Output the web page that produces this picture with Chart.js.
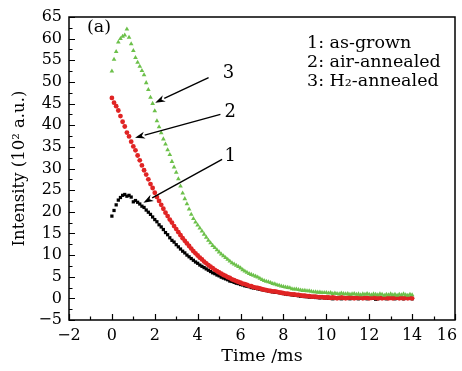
<!DOCTYPE html>
<html>
<head>
<meta charset="utf-8">
<script src="https://cdn.jsdelivr.net/npm/chart.js@4/dist/chart.umd.min.js"></script>
<style>
  html, body { margin: 0; padding: 0; background: #fff; }
</style>
</head>
<body>
<canvas id="pl-chart" width="462" height="371"></canvas>
<script>
"use strict";

// time axis (ms)
const time = [
  0, 0.1, 0.2, 0.3, 0.4, 0.5, 0.6, 0.7, 0.8, 0.9,
  1, 1.1, 1.2, 1.3, 1.4, 1.5, 1.6, 1.7, 1.8, 1.9,
  2, 2.1, 2.2, 2.3, 2.4, 2.5, 2.6, 2.7, 2.8, 2.9,
  3, 3.1, 3.2, 3.3, 3.4, 3.5, 3.6, 3.7, 3.8, 3.9,
  4, 4.1, 4.2, 4.3, 4.4, 4.5, 4.6, 4.7, 4.8, 4.9,
  5, 5.1, 5.2, 5.3, 5.4, 5.5, 5.6, 5.7, 5.8, 5.9,
  6, 6.1, 6.2, 6.3, 6.4, 6.5, 6.6, 6.7, 6.8, 6.9,
  7, 7.1, 7.2, 7.3, 7.4, 7.5, 7.6, 7.7, 7.8, 7.9,
  8, 8.1, 8.2, 8.3, 8.4, 8.5, 8.6, 8.7, 8.8, 8.9,
  9, 9.1, 9.2, 9.3, 9.4, 9.5, 9.6, 9.7, 9.8, 9.9,
  10, 10.1, 10.2, 10.3, 10.4, 10.5, 10.6, 10.7, 10.8, 10.9,
  11, 11.1, 11.2, 11.3, 11.4, 11.5, 11.6, 11.7, 11.8, 11.9,
  12, 12.1, 12.2, 12.3, 12.4, 12.5, 12.6, 12.7, 12.8, 12.9,
  13, 13.1, 13.2, 13.3, 13.4, 13.5, 13.6, 13.7, 13.8, 13.9,
  14
];

// 1: as-grown
const asGrown = [
  19.0, 20.3, 21.6, 22.7, 23.3, 23.8, 24.0, 23.6, 23.8, 23.4,
  22.3, 22.6, 22.2, 21.8, 21.3, 21.0, 20.4, 19.9, 19.4, 18.8,
  18.2, 17.7, 17.0, 16.5, 15.9, 15.2, 14.7, 14.0, 13.4, 13.0,
  12.4, 11.9, 11.4, 10.9, 10.5, 10.0, 9.6, 9.2, 8.8, 8.4,
  8.1, 7.7, 7.4, 7.1, 6.8, 6.5, 6.2, 5.9, 5.7, 5.4,
  5.2, 4.9, 4.7, 4.5, 4.3, 4.0, 3.9, 3.7, 3.5, 3.4,
  3.2, 3.1, 2.9, 2.8, 2.7, 2.5, 2.4, 2.3, 2.2, 2.1,
  2.0, 1.9, 1.8, 1.7, 1.6, 1.5, 1.4, 1.4, 1.3, 1.2,
  1.1, 1.0, 0.9, 0.9, 0.8, 0.7, 0.7, 0.6, 0.5, 0.5,
  0.4, 0.4, 0.3, 0.3, 0.3, 0.2, 0.2, 0.1, 0.2, 0.1,
  0.1, 0.0, 0.1, -0.1, 0.0, 0.1, 0.0, -0.1, 0.0, 0.1,
  0.0, -0.1, 0.0, 0.1, 0.0, -0.1, 0.0, 0.0, 0.1, -0.1,
  0.0, 0.1, 0.0, -0.2, -0.1, 0.0, 0.1, 0.0, -0.1, 0.0,
  0.1, 0.0, -0.1, 0.0, 0.0, 0.1, -0.1, 0.0, 0.1, 0.0,
  -0.1
];

// 2: air-annealed
const airAnnealed = [
  46.3, 45.2, 44.4, 43.4, 42.1, 40.8, 39.7, 38.3, 37.4, 36.2,
  35.1, 34.2, 33.0, 31.9, 30.7, 29.6, 28.6, 27.5, 26.4, 25.5,
  24.4, 23.4, 22.5, 21.6, 20.7, 19.8, 19.0, 18.2, 17.5, 16.7,
  16.0, 15.3, 14.6, 13.9, 13.3, 12.7, 12.1, 11.5, 10.9, 10.4,
  9.9, 9.4, 9.0, 8.5, 8.1, 7.7, 7.3, 7.0, 6.6, 6.3,
  6.0, 5.7, 5.4, 5.2, 4.9, 4.7, 4.4, 4.2, 4.0, 3.8,
  3.6, 3.4, 3.3, 3.1, 2.9, 2.8, 2.6, 2.5, 2.4, 2.3,
  2.1, 2.0, 1.9, 1.8, 1.7, 1.6, 1.6, 1.5, 1.4, 1.3,
  1.2, 1.1, 1.1, 1.0, 0.9, 0.9, 0.8, 0.8, 0.7, 0.6,
  0.6, 0.5, 0.5, 0.4, 0.4, 0.4, 0.3, 0.3, 0.3, 0.2,
  0.2, 0.2, 0.1, 0.2, 0.1, 0.0, 0.1, 0.2, 0.1, 0.0,
  0.1, 0.2, 0.1, 0.0, 0.1, 0.1, 0.2, 0.0, 0.1, 0.1,
  0.0, 0.1, 0.2, 0.1, 0.0, 0.1, 0.0, 0.1, 0.1, 0.0,
  0.1, 0.0, 0.1, 0.2, 0.0, 0.1, 0.0, 0.1, 0.0, 0.1,
  0.0
];

// 3: H2-annealed
const h2Annealed = [
  52.5, 55.2, 57.0, 59.2, 60.0, 60.5, 60.8, 62.2, 60.3, 58.8,
  57.2, 55.6, 54.5, 53.6, 52.6, 51.6, 49.8, 48.2, 46.4, 45.0,
  43.3, 41.0, 39.6, 38.2, 36.8, 35.6, 34.3, 33.2, 31.6, 30.3,
  29.1, 27.6, 25.9, 24.3, 23.0, 21.8, 20.6, 19.4, 18.4, 17.6,
  16.9, 16.2, 15.5, 14.8, 14.1, 13.4, 12.8, 12.2, 11.7, 11.2,
  10.7, 10.2, 9.8, 9.4, 9.0, 8.6, 8.2, 7.9, 7.6, 7.3,
  7.0, 6.6, 6.3, 6.0, 5.7, 5.5, 5.3, 5.1, 4.9, 4.6,
  4.3, 4.1, 3.9, 3.8, 3.6, 3.4, 3.3, 3.1, 3.0, 2.8,
  2.7, 2.6, 2.5, 2.4, 2.2, 2.1, 2.1, 2.0, 1.9, 1.8,
  1.8, 1.7, 1.7, 1.6, 1.5, 1.5, 1.4, 1.4, 1.3, 1.3,
  1.3, 1.2, 1.3, 1.1, 1.2, 1.1, 1.0, 1.2, 1.1, 1.0,
  1.1, 0.9, 1.0, 1.1, 0.9, 1.0, 0.8, 1.0, 0.9, 1.1,
  0.9, 0.8, 1.0, 0.9, 0.8, 1.0, 0.9, 0.7, 0.9, 0.8,
  1.0, 0.8, 0.9, 0.7, 0.9, 0.8, 1.0, 0.8, 0.7, 0.9,
  0.8
];

const xTicks = [-2, 0, 2, 4, 6, 8, 10, 12, 14, 16];
const yTicks = [-5, 0, 5, 10, 15, 20, 25, 30, 35, 40, 45, 50, 55, 60, 65];
const legendLines = ["1: as-grown", "2: air-annealed", "3: H\u2082-annealed"];
const curveLabels = ["1", "2", "3"];

const FONT = "'DejaVu Serif', 'Liberation Serif', serif";

const toPoints = (vals) => time.map((t, i) => ({ x: t, y: vals[i] }));
const minus = (v) => String(v).replace("-", "\u2212");

// arrow annotations, in data units: [label x, label y, from x, from y, to x, to y]
const arrows = [
  [5.52, 32.9, 5.14, 32.1, 1.47, 22.1],
  [5.52, 42.9, 5.06, 42.5, 1.08, 37.1],
  [5.44, 52.1, 4.51, 51.0, 2.02, 45.2],
];

const decor = {
  id: "decor",
  afterDatasetsDraw(chart) {
    const { ctx, chartArea: a, scales: { x, y } } = chart;
    ctx.save();
    ctx.strokeStyle = "#000";
    ctx.fillStyle = "#000";

    // frame
    ctx.lineWidth = 1.5;
    ctx.strokeRect(a.left, a.top, a.right - a.left, a.bottom - a.top);

    // inward ticks
    ctx.lineWidth = 1.2;
    ctx.beginPath();
    for (let v = xTicks[0]; v <= xTicks[xTicks.length - 1]; v += 1) {
      const px = Math.round(x.getPixelForValue(v)) + 0.5;
      const len = v % 2 === 0 ? 6 : 3.5;
      ctx.moveTo(px, a.bottom);
      ctx.lineTo(px, a.bottom - len);
    }
    for (let v = yTicks[0]; v <= yTicks[yTicks.length - 1]; v += 2.5) {
      const py = Math.round(y.getPixelForValue(v)) + 0.5;
      const len = v % 5 === 0 ? 6 : 3.5;
      ctx.moveTo(a.left, py);
      ctx.lineTo(a.left + len, py);
    }
    ctx.stroke();

    // arrows with numbers
    ctx.font = "18px " + FONT;
    ctx.textAlign = "center";
    ctx.textBaseline = "middle";
    arrows.forEach((ar, i) => {
      const x0 = x.getPixelForValue(ar[2]), y0 = y.getPixelForValue(ar[3]);
      const x1 = x.getPixelForValue(ar[4]), y1 = y.getPixelForValue(ar[5]);
      const ang = Math.atan2(y1 - y0, x1 - x0);
      const hl = 10, hw = 3.5;
      const bx = x1 - hl * Math.cos(ang), by = y1 - hl * Math.sin(ang);
      ctx.lineWidth = 1.4;
      ctx.beginPath();
      ctx.moveTo(x0, y0);
      ctx.lineTo(bx, by);
      ctx.stroke();
      ctx.beginPath();
      ctx.moveTo(x1, y1);
      ctx.lineTo(bx - hw * Math.sin(ang), by + hw * Math.cos(ang));
      ctx.lineTo(x1 - 0.7 * hl * Math.cos(ang), y1 - 0.7 * hl * Math.sin(ang));
      ctx.lineTo(bx + hw * Math.sin(ang), by - hw * Math.cos(ang));
      ctx.closePath();
      ctx.fill();
      ctx.fillText(curveLabels[i], x.getPixelForValue(ar[0]), y.getPixelForValue(ar[1]));
    });

    // panel tag and legend text
    ctx.textAlign = "left";
    ctx.font = "17.5px " + FONT;
    ctx.fillText("(a)", a.left + 18, a.top + 10);
    legendLines.forEach((s, i) => {
      ctx.fillText(s, 307, 43 + i * 19);
    });
    ctx.restore();
  },
};

new Chart(document.getElementById("pl-chart"), {
  type: "scatter",
  data: {
    datasets: [
      {
        label: "3: H2-annealed",
        data: toPoints(h2Annealed),
        pointStyle: "triangle",
        pointRadius: 2.7,
        backgroundColor: "#6cc04a",
        borderColor: "#6cc04a",
        borderWidth: 0,
      },
      {
        label: "2: air-annealed",
        data: toPoints(airAnnealed),
        pointStyle: "circle",
        pointRadius: 2.4,
        backgroundColor: "#e02424",
        borderColor: "#e02424",
        borderWidth: 0,
      },
      {
        label: "1: as-grown",
        data: toPoints(asGrown),
        pointStyle: "rect",
        pointRadius: 2.3,
        backgroundColor: "#000",
        borderColor: "#000",
        borderWidth: 0,
      },
    ],
  },
  options: {
    responsive: false,
    animation: false,
    layout: { padding: { top: 17, right: 7, left: 0, bottom: 0 } },
    plugins: {
      legend: { display: false },
      tooltip: { enabled: false },
    },
    scales: {
      x: {
        type: "linear",
        min: -2,
        max: 16,
        grid: { display: false, drawTicks: false },
        border: { display: false },
        ticks: {
          stepSize: 2,
          autoSkip: false,
          maxRotation: 0,
          color: "#000",
          padding: 6,
          font: { family: FONT, size: 16 },
          // last label is pulled in so it stays on the canvas
          callback: (v) => (v === xTicks[xTicks.length - 1] ? minus(v) + "\u2002\u2002" : minus(v)),
        },
        title: {
          display: true,
          text: "Time /ms",
          color: "#000",
          font: { family: FONT, size: 17.5 },
          padding: { top: 0, bottom: 4 },
        },
        afterFit: (s) => {
          s.height = 51;
          s.paddingLeft = 0;
          s.paddingRight = 0;
        },
      },
      y: {
        min: -5,
        max: 65,
        grid: { display: false, drawTicks: false },
        border: { display: false },
        ticks: {
          stepSize: 5,
          autoSkip: false,
          color: "#000",
          padding: 7,
          font: { family: FONT, size: 16 },
          callback: (v) => minus(v),
        },
        title: {
          display: true,
          text: "Intensity (10\u00b2 a.u.)",
          color: "#000",
          font: { family: FONT, size: 16.5 },
          padding: { top: 10, bottom: 0 },
        },
        afterFit: (s) => {
          s.width = 69;
          s.paddingTop = 0;
          s.paddingBottom = 0;
        },
      },
    },
  },
  plugins: [decor],
});
</script>
</body>
</html>
